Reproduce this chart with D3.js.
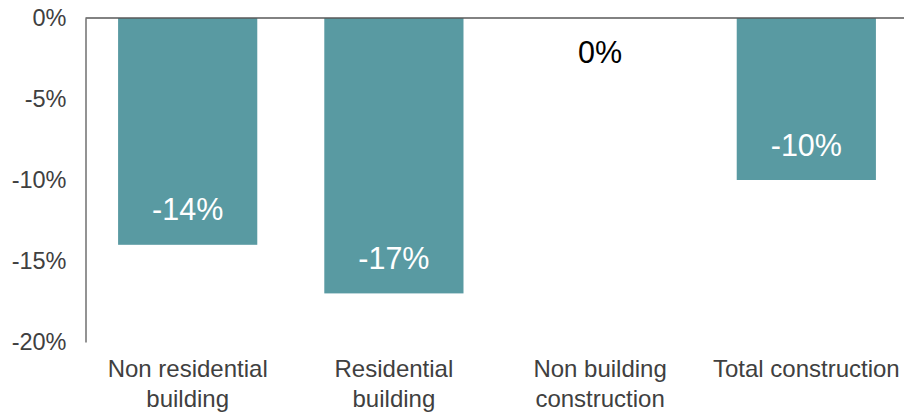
<!DOCTYPE html>
<html>
<head>
<meta charset="utf-8">
<script src="https://cdn.jsdelivr.net/npm/d3@7"></script>
<style>
  html, body { margin: 0; padding: 0; background: #fff; }
  svg { display: block; font-family: "Liberation Sans", Arial, sans-serif; }
</style>
</head>
<body>
<svg id="chart" width="904" height="413"></svg>
<script>
// Year-on-year change in construction output by sector
const categories = ["Non residential building", "Residential building", "Non building construction", "Total construction"];
const categoryLines = [["Non residential", "building"], ["Residential", "building"], ["Non building", "construction"], ["Total construction"]];
const values = [-14, -17, 0, -10];
const yTicks = [0, -5, -10, -15, -20];

(function draw() {
  const svg = d3.select("#chart");
  const plotLeft = 85.5, plotRight = 908.5, plotTop = 18, plotBottom = 342;

  // Percent format with a plain hyphen for negatives
  const pct = d3.formatLocale({ decimal: ".", thousands: ",", grouping: [3], currency: ["", ""], minus: "-" })
    .format("d");
  const fmt = v => pct(v) + "%";

  const x = d3.scaleBand()
    .domain(categories)
    .range([plotLeft, plotRight])
    .paddingInner(0.325)
    .paddingOuter(0.158);

  const y = d3.scaleLinear().domain([0, -20]).range([plotTop, plotBottom]);

  // Bars
  svg.append("g").selectAll("rect")
    .data(categories)
    .join("rect")
    .attr("x", d => x(d))
    .attr("width", x.bandwidth())
    .attr("y", y(0))
    .attr("height", (d, i) => y(values[i]) - y(0))
    .attr("fill", "#599AA2");

  // Y axis (labels plus axis line, no tick marks)
  const yAxis = d3.axisLeft(y)
    .tickValues(yTicks)
    .tickSize(0)
    .tickPadding(19)
    .tickFormat(fmt);

  svg.append("g")
    .attr("transform", `translate(${plotLeft},0)`)
    .call(yAxis)
    .call(g => g.select(".domain").attr("stroke", "#595959").attr("stroke-width", 1.3))
    .call(g => g.selectAll("text")
      .attr("font-size", 23.5)
      .attr("fill", "#404040")
      .attr("font-family", "Liberation Sans, Arial, sans-serif"));

  // Zero line along the top
  svg.append("line")
    .attr("x1", plotLeft).attr("x2", 904)
    .attr("y1", y(0)).attr("y2", y(0))
    .attr("stroke", "#595959")
    .attr("stroke-width", 1.3);

  // Category labels
  const catG = svg.append("g");
  categories.forEach((c, i) => {
    const cx = x(c) + x.bandwidth() / 2;
    const t = catG.append("text")
      .attr("x", cx)
      .attr("y", 377)
      .attr("text-anchor", "middle")
      .attr("font-size", 24)
      .attr("fill", "#404040");
    categoryLines[i].forEach((line, j) => {
      t.append("tspan")
        .attr("x", cx)
        .attr("dy", j === 0 ? 0 : 30)
        .text(line);
    });
  });

  // Value labels at the inside end of each bar
  svg.append("g").selectAll("text")
    .data(categories)
    .join("text")
    .attr("x", d => x(d) + x.bandwidth() / 2)
    .attr("y", (d, i) => values[i] === 0 ? y(0) + 34 : y(values[i]) - 35)
    .attr("dy", "0.35em")
    .attr("text-anchor", "middle")
    .attr("font-size", 30.5)
    .attr("fill", (d, i) => values[i] === 0 ? "#000" : "#fff")
    .text((d, i) => fmt(values[i]));
})();
</script>
</body>
</html>
